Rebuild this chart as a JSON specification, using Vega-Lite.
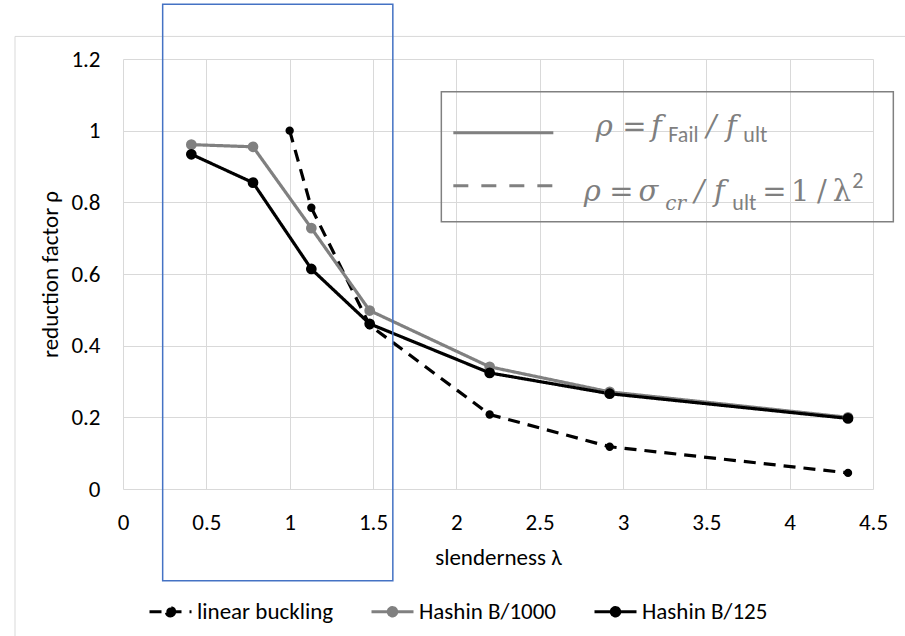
{
  "$schema": "https://vega.github.io/schema/vega-lite/v6.json",
  "width": 750,
  "height": 430,
  "autosize": {"type": "none"},
  "padding": {"left": 123, "top": 59, "right": 32, "bottom": 147},
  "background": "white",
  "config": {"view": {"stroke": null}, "font": "Carlito, Lato, sans-serif"},
  "datasets": {
    "series": [
      {"series": "linear buckling", "x": 1.0, "y": 1.0},
      {"series": "linear buckling", "x": 1.13, "y": 0.785},
      {"series": "linear buckling", "x": 1.48, "y": 0.457},
      {"series": "linear buckling", "x": 2.2, "y": 0.208},
      {"series": "linear buckling", "x": 2.92, "y": 0.118},
      {"series": "linear buckling", "x": 4.35, "y": 0.045},
      {"series": "Hashin B/1000", "x": 0.41, "y": 0.961},
      {"series": "Hashin B/1000", "x": 0.78, "y": 0.955},
      {"series": "Hashin B/1000", "x": 1.13, "y": 0.728},
      {"series": "Hashin B/1000", "x": 1.48, "y": 0.498},
      {"series": "Hashin B/1000", "x": 2.2, "y": 0.341},
      {"series": "Hashin B/1000", "x": 2.92, "y": 0.271},
      {"series": "Hashin B/1000", "x": 4.35, "y": 0.2},
      {"series": "Hashin B/125", "x": 0.41, "y": 0.934},
      {"series": "Hashin B/125", "x": 0.78, "y": 0.855},
      {"series": "Hashin B/125", "x": 1.13, "y": 0.614},
      {"series": "Hashin B/125", "x": 1.48, "y": 0.461},
      {"series": "Hashin B/125", "x": 2.2, "y": 0.324},
      {"series": "Hashin B/125", "x": 2.92, "y": 0.266},
      {"series": "Hashin B/125", "x": 4.35, "y": 0.197}
    ],
    "mainItalic": [
      {"x": 2.888, "y": 0.986, "t": "ρ"},
      {"x": 3.2, "y": 0.986, "t": "f"},
      {"x": 3.53, "y": 0.986, "t": "/"},
      {"x": 3.65, "y": 0.986, "t": "f"},
      {"x": 2.816, "y": 0.8032, "t": "ρ"},
      {"x": 3.152, "y": 0.8032, "t": "σ"},
      {"x": 3.458, "y": 0.8032, "t": "/"},
      {"x": 3.578, "y": 0.8032, "t": "f"}
    ],
    "mainUpright": [
      {"x": 3.068, "y": 0.986, "t": "="},
      {"x": 2.99, "y": 0.8032, "t": "="},
      {"x": 3.908, "y": 0.8032, "t": "="},
      {"x": 4.064, "y": 0.8032, "t": "1"},
      {"x": 4.193, "y": 0.8032, "t": "/"},
      {"x": 4.313, "y": 0.8032, "t": "λ"}
    ],
    "subUpright": [
      {"x": 3.272, "y": 0.9692, "t": "Fail"},
      {"x": 3.722, "y": 0.9692, "t": "ult"},
      {"x": 3.656, "y": 0.7794, "t": "ult"},
      {"x": 4.376, "y": 0.8408, "t": "2"}
    ],
    "subItalic": [
      {"x": 3.254, "y": 0.7794, "t": "cr"}
    ]
  },
  "layer": [
    {
      "data": {"values": [{"x": -0.648, "x2": 5.0, "y": 1.263}]},
      "mark": {"type": "rule", "color": "#d9d9d9", "strokeWidth": 1},
      "encoding": {
        "x": {"field": "x", "type": "quantitative", "scale": {"domain": [0, 4.5], "nice": false}},
        "x2": {"field": "x2"},
        "y": {"field": "y", "type": "quantitative", "scale": {"domain": [0, 1.2], "nice": false}}
      }
    },
    {
      "data": {"values": [{"x": -0.648, "y": 1.263, "y2": -0.6}]},
      "mark": {"type": "rule", "color": "#d9d9d9", "strokeWidth": 1},
      "encoding": {
        "x": {"field": "x", "type": "quantitative", "scale": {"domain": [0, 4.5], "nice": false}},
        "y": {"field": "y", "type": "quantitative", "scale": {"domain": [0, 1.2], "nice": false}},
        "y2": {"field": "y2"}
      }
    },
    {
      "data": {"name": "series"},
      "mark": {"type": "line", "strokeWidth": 3.2, "strokeCap": "butt"},
      "encoding": {
        "x": {
          "field": "x", "type": "quantitative", "title": "slenderness λ",
          "scale": {"domain": [0, 4.5], "nice": false},
          "axis": {
            "values": [0, 0.5, 1, 1.5, 2, 2.5, 3, 3.5, 4, 4.5], "format": "~g",
            "grid": true, "gridColor": "#d9d9d9", "ticks": false, "domain": false,
            "labelFontSize": 23, "labelPadding": 22, "labelColor": "#000", "labelFlush": false, "labelOverlap": false,
            "titleFontSize": 23, "titleFontWeight": "normal", "titleColor": "#000", "titlePadding": 12
          }
        },
        "y": {
          "field": "y", "type": "quantitative", "title": "reduction factor ρ",
          "scale": {"domain": [0, 1.2], "nice": false},
          "axis": {
            "values": [0, 0.2, 0.4, 0.6, 0.8, 1, 1.2], "format": "~g",
            "grid": true, "gridColor": "#d9d9d9", "ticks": false, "domain": false,
            "labelFontSize": 23, "labelPadding": 23, "labelColor": "#000", "labelFlush": false, "labelOverlap": false,
            "titleFontSize": 23, "titleFontWeight": "normal", "titleColor": "#000", "titlePadding": 8
          }
        },
        "color": {
          "field": "series", "type": "nominal",
          "scale": {"domain": ["linear buckling", "Hashin B/1000", "Hashin B/125"], "range": ["#000000", "#808080", "#000000"]},
          "legend": {
            "orient": "none", "legendX": 25, "legendY": 530, "direction": "horizontal", "title": null,
            "symbolType": "M-1,0H1M0.2,0A0.2,0.2,0,1,1,-0.2,0A0.2,0.2,0,1,1,0.2,0Z",
            "symbolSize": 1764, "symbolStrokeWidth": 3, "labelFontSize": 23, "labelColor": "#000",
            "labelOffset": 4, "columnPadding": 31, "padding": 0
          }
        },
        "strokeDash": {
          "field": "series", "type": "nominal",
          "scale": {"domain": ["linear buckling", "Hashin B/1000", "Hashin B/125"], "range": [[12, 8], [1, 0], [1, 0]]}
        }
      }
    },
    {
      "data": {"name": "series"},
      "mark": {"type": "point", "filled": true, "opacity": 1},
      "encoding": {
        "x": {"field": "x", "type": "quantitative", "scale": {"domain": [0, 4.5], "nice": false}},
        "y": {"field": "y", "type": "quantitative", "scale": {"domain": [0, 1.2], "nice": false}},
        "color": {"field": "series", "type": "nominal", "scale": {"domain": ["linear buckling", "Hashin B/1000", "Hashin B/125"], "range": ["#000000", "#808080", "#000000"]}},
        "size": {"condition": {"test": "datum.series === 'linear buckling'", "value": 70}, "value": 115}
      }
    },
    {
      "data": {"values": [{"x": 1.91, "x2": 4.622, "y": 1.1088, "y2": 0.746}]},
      "mark": {"type": "rect", "fill": "white", "fillOpacity": 0, "stroke": "#808080", "strokeWidth": 1.5},
      "encoding": {
        "x": {"field": "x", "type": "quantitative", "scale": {"domain": [0, 4.5], "nice": false}},
        "x2": {"field": "x2"},
        "y": {"field": "y", "type": "quantitative", "scale": {"domain": [0, 1.2], "nice": false}},
        "y2": {"field": "y2"}
      }
    },
    {
      "data": {"values": [{"x": 1.982, "x2": 2.582, "y": 0.9943}]},
      "mark": {"type": "rule", "color": "#808080", "strokeWidth": 3},
      "encoding": {
        "x": {"field": "x", "type": "quantitative", "scale": {"domain": [0, 4.5], "nice": false}},
        "x2": {"field": "x2"},
        "y": {"field": "y", "type": "quantitative", "scale": {"domain": [0, 1.2], "nice": false}}
      }
    },
    {
      "data": {"values": [{"x": 1.982, "x2": 2.582, "y": 0.8464}]},
      "mark": {"type": "rule", "color": "#808080", "strokeWidth": 3, "strokeDash": [15, 13]},
      "encoding": {
        "x": {"field": "x", "type": "quantitative", "scale": {"domain": [0, 4.5], "nice": false}},
        "x2": {"field": "x2"},
        "y": {"field": "y", "type": "quantitative", "scale": {"domain": [0, 1.2], "nice": false}}
      }
    },
    {
      "data": {"name": "mainItalic"},
      "mark": {"type": "text", "align": "center", "baseline": "alphabetic", "font": "DejaVu Serif", "fontStyle": "italic", "fontSize": 29, "color": "#7f7f7f"},
      "encoding": {
        "x": {"field": "x", "type": "quantitative", "scale": {"domain": [0, 4.5], "nice": false}},
        "y": {"field": "y", "type": "quantitative", "scale": {"domain": [0, 1.2], "nice": false}},
        "text": {"field": "t"}
      }
    },
    {
      "data": {"name": "mainUpright"},
      "mark": {"type": "text", "align": "center", "baseline": "alphabetic", "font": "DejaVu Serif", "fontSize": 29, "color": "#7f7f7f"},
      "encoding": {
        "x": {"field": "x", "type": "quantitative", "scale": {"domain": [0, 4.5], "nice": false}},
        "y": {"field": "y", "type": "quantitative", "scale": {"domain": [0, 1.2], "nice": false}},
        "text": {"field": "t"}
      }
    },
    {
      "data": {"name": "subUpright"},
      "mark": {"type": "text", "align": "left", "baseline": "alphabetic", "font": "Carlito, Lato, sans-serif", "fontSize": 22, "color": "#7f7f7f"},
      "encoding": {
        "x": {"field": "x", "type": "quantitative", "scale": {"domain": [0, 4.5], "nice": false}},
        "y": {"field": "y", "type": "quantitative", "scale": {"domain": [0, 1.2], "nice": false}},
        "text": {"field": "t"}
      }
    },
    {
      "data": {"name": "subItalic"},
      "mark": {"type": "text", "align": "left", "baseline": "alphabetic", "font": "DejaVu Serif", "fontStyle": "italic", "fontSize": 20, "color": "#7f7f7f"},
      "encoding": {
        "x": {"field": "x", "type": "quantitative", "scale": {"domain": [0, 4.5], "nice": false}},
        "y": {"field": "y", "type": "quantitative", "scale": {"domain": [0, 1.2], "nice": false}},
        "text": {"field": "t"}
      }
    },
    {
      "data": {"values": [{"x": 0.238, "x2": 1.619, "y": 1.353, "y2": -0.256}]},
      "mark": {"type": "rect", "fill": "white", "fillOpacity": 0, "stroke": "#4472c4", "strokeWidth": 1.5},
      "encoding": {
        "x": {"field": "x", "type": "quantitative", "scale": {"domain": [0, 4.5], "nice": false}},
        "x2": {"field": "x2"},
        "y": {"field": "y", "type": "quantitative", "scale": {"domain": [0, 1.2], "nice": false}},
        "y2": {"field": "y2"}
      }
    }
  ]
}
